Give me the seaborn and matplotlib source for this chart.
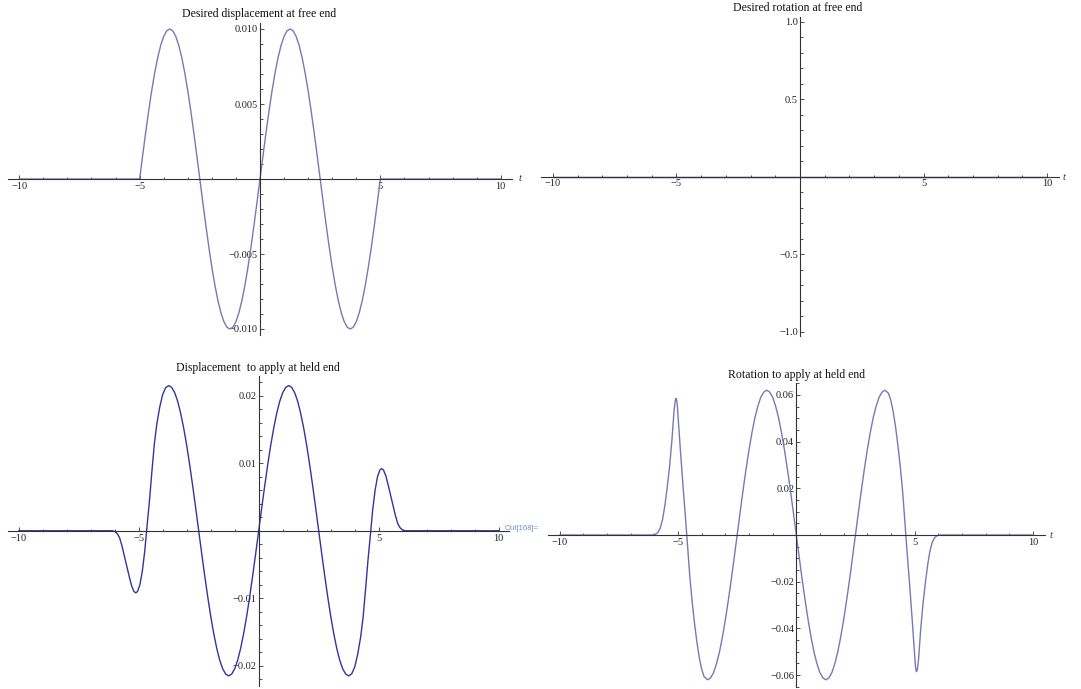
import matplotlib
matplotlib.use('Agg')
import matplotlib.pyplot as plt
from matplotlib.ticker import MultipleLocator, FixedLocator, FixedFormatter
import seaborn as sns

# --- values ---

# desired displacement at free end
t_free = [-10,
          -5.0, -4.875, -4.75, -4.625, -4.5, -4.375, -4.25, -4.125, -4.0, -3.875,
          -3.75, -3.625, -3.5, -3.375, -3.25, -3.125, -3.0, -2.875, -2.75, -2.625,
          -2.5, -2.375, -2.25, -2.125, -2.0, -1.875, -1.75, -1.625, -1.5, -1.375,
          -1.25, -1.125, -1.0, -0.875, -0.75, -0.625, -0.5, -0.375, -0.25, -0.125,
          0.0, 0.125, 0.25, 0.375, 0.5, 0.625, 0.75, 0.875, 1.0, 1.125,
          1.25, 1.375, 1.5, 1.625, 1.75, 1.875, 2.0, 2.125, 2.25, 2.375,
          2.5, 2.625, 2.75, 2.875, 3.0, 3.125, 3.25, 3.375, 3.5, 3.625,
          3.75, 3.875, 4.0, 4.125, 4.25, 4.375, 4.5, 4.625, 4.75, 4.875,
          5.0, 10]
disp_free = [0,
             0, 0.00156, 0.00309, 0.00454, 0.00588, 0.00707, 0.00809, 0.00891, 0.00951, 0.00988,
             0.0100, 0.00988, 0.00951, 0.00891, 0.00809, 0.00707, 0.00588, 0.00454, 0.00309, 0.00156,
             0, -0.00156, -0.00309, -0.00454, -0.00588, -0.00707, -0.00809, -0.00891, -0.00951, -0.00988,
             -0.0100, -0.00988, -0.00951, -0.00891, -0.00809, -0.00707, -0.00588, -0.00454, -0.00309, -0.00156,
             0, 0.00156, 0.00309, 0.00454, 0.00588, 0.00707, 0.00809, 0.00891, 0.00951, 0.00988,
             0.0100, 0.00988, 0.00951, 0.00891, 0.00809, 0.00707, 0.00588, 0.00454, 0.00309, 0.00156,
             0, -0.00156, -0.00309, -0.00454, -0.00588, -0.00707, -0.00809, -0.00891, -0.00951, -0.00988,
             -0.0100, -0.00988, -0.00951, -0.00891, -0.00809, -0.00707, -0.00588, -0.00454, -0.00309, -0.00156,
             0, 0]

# desired rotation at free end (flat)
t_rot_free = [-10, 10]
rot_free = [0, 0]

# displacement to apply at held end
t_held = [-10, -6.1, -6.0, -5.9, -5.8, -5.7, -5.6, -5.5, -5.4, -5.3, -5.2, -5.12,
          -5.05, -4.95, -4.85, -4.75, -4.67, -4.55, -4.45, -4.35, -4.25, -4.125, -4.0, -3.875,
          -3.75, -3.625, -3.5, -3.375, -3.25, -3.125, -3.0, -2.875, -2.75, -2.625,
          -2.5, -2.375, -2.25, -2.125, -2.0, -1.875, -1.75, -1.625, -1.5, -1.375,
          -1.25, -1.125, -1.0, -0.875, -0.75, -0.625, -0.5, -0.375, -0.25, -0.125,
          0.0, 0.125, 0.25, 0.375, 0.5, 0.625, 0.75, 0.875, 1.0, 1.125,
          1.25, 1.375, 1.5, 1.625, 1.75, 1.875, 2.0, 2.125, 2.25, 2.375,
          2.5, 2.625, 2.75, 2.875, 3.0, 3.125, 3.25, 3.375, 3.5, 3.625,
          3.75,
          3.875, 4.0, 4.125, 4.25, 4.35, 4.45, 4.55, 4.67, 4.75, 4.85, 4.95, 5.05,
          5.12, 5.2, 5.3, 5.4, 5.5, 5.6, 5.7, 5.8, 5.9, 6.0, 6.1, 10]
disp_held = [0, 0, -0.0001, -0.0004, -0.0010, -0.0022, -0.0037, -0.0052, -0.0067, -0.0081, -0.0090, -0.0092,
             -0.0090, -0.0080, -0.0060, -0.0031, 0.0, 0.0045, 0.0088, 0.0128, 0.0157, 0.0183, 0.0202, 0.0212,
             0.0215, 0.02124, 0.02045, 0.01916, 0.01739, 0.0152, 0.01264, 0.00976, 0.00664, 0.00336,
             0, -0.00336, -0.00664, -0.00976, -0.01264, -0.0152, -0.01739, -0.01916, -0.02045, -0.02124,
             -0.0215, -0.02124, -0.02045, -0.01916, -0.01739, -0.0152, -0.01264, -0.00976, -0.00664, -0.00336,
             0, 0.00336, 0.00664, 0.00976, 0.01264, 0.0152, 0.01739, 0.01916, 0.02045, 0.02124,
             0.0215, 0.02124, 0.02045, 0.01916, 0.01739, 0.0152, 0.01264, 0.00976, 0.00664, 0.00336,
             0, -0.00336, -0.00664, -0.00976, -0.01264, -0.0152, -0.01739, -0.01916, -0.02045, -0.02124,
             -0.0215,
             -0.0212, -0.0202, -0.0183, -0.0157, -0.0128, -0.0088, -0.0045, 0.0, 0.0031, 0.0060, 0.0080, 0.0090,
             0.0092, 0.0090, 0.0081, 0.0067, 0.0052, 0.0037, 0.0022, 0.0010, 0.0004, 0.0001, 0, 0]

# rotation to apply at held end
t_rot_held = [-10, -6.1, -5.95, -5.85, -5.75, -5.65, -5.55, -5.45, -5.35, -5.25,
              -5.17, -5.145, -5.12, -5.10, -5.08, -5.06, -5.04, -5.02, -5.0, -4.9,
              -4.8, -4.7, -4.63, -4.5, -4.4, -4.3, -4.2, -4.1, -4.0, -3.9,
              -3.75, -3.625, -3.5, -3.375, -3.25, -3.125, -3.0, -2.875, -2.75, -2.625,
              -2.5, -2.375, -2.25, -2.125, -2.0, -1.875, -1.75, -1.625, -1.5, -1.375,
              -1.25, -1.125, -1.0, -0.875, -0.75, -0.625, -0.5, -0.375, -0.25, -0.125,
              0.0, 0.125, 0.25, 0.375, 0.5, 0.625, 0.75, 0.875, 1.0, 1.125,
              1.25, 1.375, 1.5, 1.625, 1.75, 1.875, 2.0, 2.125, 2.25, 2.375,
              2.5, 2.625, 2.75, 2.875, 3.0, 3.125, 3.25, 3.375, 3.5, 3.625,
              3.75,
              3.9, 4.0, 4.1, 4.2, 4.3, 4.4, 4.5, 4.63, 4.7, 4.8,
              4.9, 5.0, 5.02, 5.04, 5.06, 5.08, 5.10, 5.12, 5.145, 5.17,
              5.25, 5.35, 5.45, 5.55, 5.65, 5.75, 5.85, 5.95, 6.1, 10]
rot_held = [0, 0, 0.0003, 0.0011, 0.0030, 0.0068, 0.0130, 0.0210, 0.0300, 0.0415,
            0.0530, 0.0553, 0.0572, 0.0582, 0.0585, 0.0578, 0.0565, 0.0540, 0.0510, 0.0365,
            0.0225, 0.0095, 0.0, -0.0180, -0.0288, -0.0380, -0.0460, -0.0525, -0.0575, -0.0606,
            -0.062, -0.0612, -0.059, -0.0552, -0.0502, -0.0438, -0.0364, -0.0281, -0.0192, -0.0097,
            0, 0.0097, 0.0192, 0.0281, 0.0364, 0.0438, 0.0502, 0.0552, 0.059, 0.0612,
            0.062, 0.0612, 0.059, 0.0552, 0.0502, 0.0438, 0.0364, 0.0281, 0.0192, 0.0097,
            0, -0.0097, -0.0192, -0.0281, -0.0364, -0.0438, -0.0502, -0.0552, -0.059, -0.0612,
            -0.062, -0.0612, -0.059, -0.0552, -0.0502, -0.0438, -0.0364, -0.0281, -0.0192, -0.0097,
            0, 0.0097, 0.0192, 0.0281, 0.0364, 0.0438, 0.0502, 0.0552, 0.059, 0.0612,
            0.062,
            0.0606, 0.0575, 0.0525, 0.0460, 0.0380, 0.0288, 0.0180, 0.0, -0.0095, -0.0225,
            -0.0365, -0.0510, -0.0540, -0.0565, -0.0578, -0.0585, -0.0582, -0.0572, -0.0553, -0.0530,
            -0.0415, -0.0300, -0.0210, -0.0130, -0.0068, -0.0030, -0.0011, -0.0003, 0, 0]

# tick labels
x_major = [-10, -5, 5, 10]
x_labels = ['\u221210', '\u22125', '5', '10']

sns.set_theme(style='white')
plt.rcParams['font.family'] = ['Liberation Serif', 'DejaVu Serif']
plt.rcParams['axes.unicode_minus'] = True

W, H = 1081, 689
fig = plt.figure(figsize=(W / 100, H / 100), dpi=100)
fig.patch.set_facecolor('white')

axis_col = '#333333'
txt_col = '#222222'


def px_axes(x0, y0, x1, y1):
    # axes box from pixel corners (top-left origin)
    return fig.add_axes([x0 / W, 1 - y1 / H, (x1 - x0) / W, (y1 - y0) / H])


def style(ax, xlim, ylim, yticks, ylabels, yminor):
    ax.set_facecolor('none')
    ax.set_xlim(xlim)
    ax.set_ylim(ylim)
    for s in ['top', 'right']:
        ax.spines[s].set_visible(False)
    for s in ['left', 'bottom']:
        ax.spines[s].set_position('zero')
        ax.spines[s].set_color(axis_col)
        ax.spines[s].set_linewidth(0.8)
    ax.xaxis.set_major_locator(FixedLocator(x_major))
    ax.xaxis.set_major_formatter(FixedFormatter(x_labels))
    ax.xaxis.set_minor_locator(MultipleLocator(1))
    ax.yaxis.set_major_locator(FixedLocator(yticks))
    ax.yaxis.set_major_formatter(FixedFormatter(ylabels))
    ax.yaxis.set_minor_locator(MultipleLocator(yminor))
    ax.tick_params(which='both', direction='in', color=axis_col, width=0.6,
                   bottom=True, left=True, top=False, right=False,
                   labelsize=7.5, labelcolor=txt_col)
    ax.tick_params(which='major', length=3.2)
    ax.tick_params(which='minor', length=1.8)
    ax.tick_params(axis='x', pad=2)
    ax.tick_params(axis='y', pad=1.5)
    ax.set_xlabel('')
    ax.set_ylabel('')
    ax.grid(False)


light = '#7878b8'
dark = '#34349c'

# top left
ax1 = px_axes(8.2, 23, 511.8, 335)
sns.lineplot(x=t_free, y=disp_free, ax=ax1, color=light, linewidth=1.0, estimator=None, sort=False)
style(ax1, (-10.46, 10.46), (-0.0104, 0.0104), [-0.01, -0.005, 0.005, 0.01],
      ['\u22120.010', '\u22120.005', '0.005', '0.010'], 0.001)

# top right
ax2 = px_axes(540.6, 17, 1059.4, 336.3)
sns.lineplot(x=t_rot_free, y=rot_free, ax=ax2, color=dark, linewidth=1.0, estimator=None, sort=False)
style(ax2, (-10.5, 10.5), (-1.03, 1.03), [-1.0, -0.5, 0.5, 1.0],
      ['\u22121.0', '\u22120.5', '0.5', '1.0'], 0.1)

# bottom left
ax3 = px_axes(7.9, 375.5, 509.5, 686)
sns.lineplot(x=t_held, y=disp_held, ax=ax3, color=dark, linewidth=1.0, estimator=None, sort=False)
style(ax3, (-10.45, 10.45), (-0.023, 0.023), [-0.02, -0.01, 0.01, 0.02],
      ['\u22120.02', '\u22120.01', '0.01', '0.02'], 0.002)

# bottom right
ax4 = px_axes(547.9, 383.2, 1044.7, 686.8)
sns.lineplot(x=t_rot_held, y=rot_held, ax=ax4, color=light, linewidth=1.0, estimator=None, sort=False)
style(ax4, (-10.5, 10.5), (-0.065, 0.065), [-0.06, -0.04, -0.02, 0.02, 0.04, 0.06],
      ['\u22120.06', '\u22120.04', '\u22120.02', '0.02', '0.04', '0.06'], 0.005)


# titles and labels in pixel coordinates
def ftext(x, y, s, **kw):
    fig.text(x / W, 1 - y / H, s, **kw)


tkw = dict(ha='center', va='center', fontsize=8.5, color='#111111')
ftext(259, 14, 'Desired displacement at free end', **tkw)
ftext(798, 8, 'Desired rotation at free end', **tkw)
ftext(258, 368, 'Displacement  to apply at held end', **tkw)
ftext(796, 375, 'Rotation to apply at held end', **tkw)

lkw = dict(ha='center', va='center', fontsize=7.5, style='italic', color='#333333')
ftext(520, 178, 't', **lkw)
ftext(1064, 177, 't', **lkw)
ftext(1051, 535, 't', **lkw)

ftext(505, 528, 'Out[168]=', ha='left', va='center', fontsize=5.5,
      color='#6f8fd0', family=['Liberation Sans', 'DejaVu Sans'])

fig.savefig('out.png', dpi=100)
